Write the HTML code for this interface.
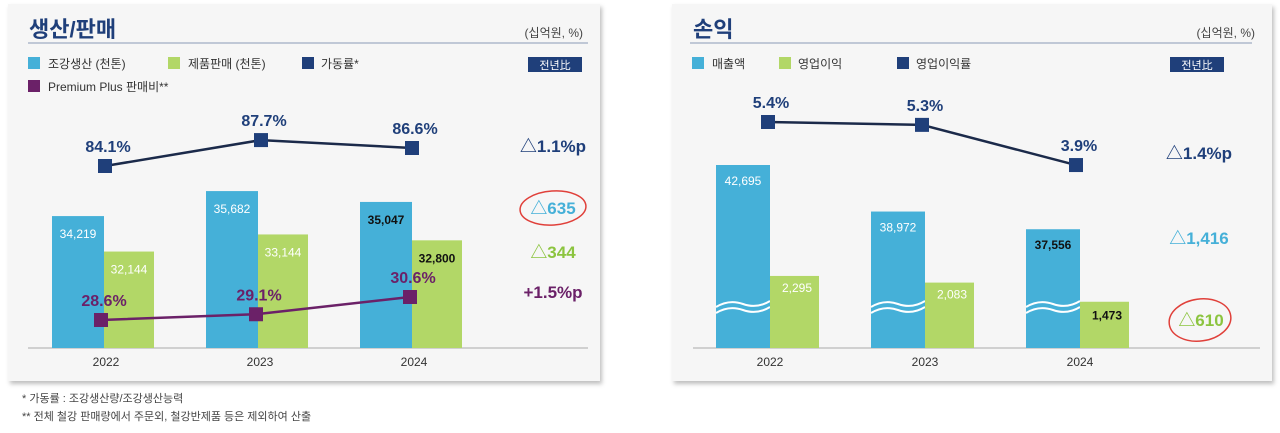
<!DOCTYPE html>
<html><head><meta charset="utf-8">
<style>
html,body{margin:0;padding:0;background:#fff;}
body{width:1280px;height:428px;overflow:hidden;font-family:"Liberation Sans","Noto Sans CJK KR",sans-serif;}
svg text{font-family:"Liberation Sans","Noto Sans CJK KR",sans-serif;}
</style></head>
<body>
<svg id="chart" width="1280" height="428" viewBox="0 0 1280 428" xmlns="http://www.w3.org/2000/svg">
<defs>
<filter id="sh" x="-5%" y="-5%" width="110%" height="115%"><feDropShadow dx="2" dy="3" stdDeviation="2" flood-color="#000" flood-opacity="0.25"/></filter>
</defs>
<rect x="8" y="4" width="592" height="377" fill="#f6f6f6" filter="url(#sh)"/>
<rect x="672" y="4" width="600" height="377" fill="#f6f6f6" filter="url(#sh)"/>
<text x="29" y="37" font-size="22" font-weight="bold" fill="#1f3f7a">생산/판매</text>
<text x="583" y="37" font-size="12" fill="#444" text-anchor="end">(십억원, %)</text>
<line x1="28" y1="43" x2="588" y2="43" stroke="#8a9ab5" stroke-width="1"/>
<g font-size="12" fill="#333">
<rect x="28" y="57" width="12" height="12" fill="#45b0d8"/><text x="48" y="68">조강생산 (천톤)</text>
<rect x="168" y="57" width="12" height="12" fill="#b2d767"/><text x="188" y="68">제품판매 (천톤)</text>
<rect x="302" y="57" width="12" height="12" fill="#1f3f7a"/><text x="321" y="68">가동률*</text>
<rect x="28" y="80" width="12" height="12" fill="#6b2168"/><text x="48" y="91">Premium Plus 판매비**</text>
</g>
<rect x="528" y="57" width="54" height="15" fill="#1f3f7a"/>
<text x="555" y="69" font-size="11" fill="#fff" text-anchor="middle">전년比</text>
<line x1="28" y1="348" x2="588" y2="348" stroke="#aaa" stroke-width="1"/>
<g id="left"></g>
<g font-size="17" font-weight="bold" text-anchor="middle">
<text x="553" y="152" fill="#1f3f7a">△1.1%p</text>
<ellipse cx="553" cy="208" rx="33" ry="17" fill="none" stroke="#e0403a" stroke-width="1.5" transform="rotate(-4 553 208)"/>
<text x="553" y="214" fill="#45b0d8">△635</text>
<text x="553" y="258" fill="#8cc43f">△344</text>
<text x="553" y="298" fill="#6b2168">+1.5%p</text>
</g>
<text x="22" y="402" font-size="11" fill="#444">* 가동률 : 조강생산량/조강생산능력</text>
<text x="22" y="420" font-size="11" fill="#444">** 전체 철강 판매량에서 주문외, 철강반제품 등은 제외하여 산출</text>

<text x="693" y="37" font-size="22" font-weight="bold" fill="#1f3f7a">손익</text>
<text x="1255" y="37" font-size="12" fill="#444" text-anchor="end">(십억원, %)</text>
<line x1="690" y1="43" x2="1252" y2="43" stroke="#8a9ab5" stroke-width="1"/>
<g font-size="12" fill="#333">
<rect x="692" y="57" width="12" height="12" fill="#45b0d8"/><text x="712" y="68">매출액</text>
<rect x="779" y="57" width="12" height="12" fill="#b2d767"/><text x="798" y="68">영업이익</text>
<rect x="897" y="57" width="12" height="12" fill="#1f3f7a"/><text x="916" y="68">영업이익률</text>
</g>
<rect x="1170" y="57" width="54" height="15" fill="#1f3f7a"/>
<text x="1197" y="69" font-size="11" fill="#fff" text-anchor="middle">전년比</text>
<line x1="693" y1="348" x2="1260" y2="348" stroke="#aaa" stroke-width="1"/>
<g id="right"></g>
<g font-size="17" font-weight="bold" text-anchor="middle">
<text x="1199" y="159" fill="#1f3f7a">△1.4%p</text>
<text x="1199" y="244" fill="#45b0d8">△1,416</text>
<ellipse cx="1200" cy="320" rx="31" ry="21" fill="none" stroke="#e0403a" stroke-width="1.5" transform="rotate(-8 1200 320)"/>
<text x="1201" y="326" fill="#8cc43f">△610</text>
</g>
</svg>
<script>
const years = ["2022","2023","2024"];
const crudeSteel = [34219, 35682, 35047];
const productSales = [32144, 33144, 32800];
const utilization = [84.1, 87.7, 86.6];
const premiumRatio = [28.6, 29.1, 30.6];
const revenue = [42695, 38972, 37556];
const opProfit = [2295, 2083, 1473];
const opMargin = [5.4, 5.3, 3.9];

const NS = "http://www.w3.org/2000/svg";
function mk(parent, tag, attrs, text){
  const e = document.createElementNS(NS, tag);
  for (const k in attrs) e.setAttribute(k, attrs[k]);
  if (text !== undefined) e.textContent = text;
  parent.appendChild(e);
  return e;
}
const fmt = v => v.toLocaleString("en-US");
const BASE = 348;

const L = document.getElementById("left");
const lx = i => 104 + i * 154;
const lBarY = v => BASE - (v - 26500) * 0.01709;
const lUtilY = v => 166 - (v - 84.1) * 7.2;
const lPremY = v => 320 - (v - 28.6) * 11.5;

years.forEach((y, i) => {
  const c = lx(i);
  const b = mk(L, "rect", {x: c - 52, y: lBarY(crudeSteel[i]), width: 52, height: BASE - lBarY(crudeSteel[i]), fill: "#45b0d8"});
  
  
  const g = mk(L, "rect", {x: c, y: lBarY(productSales[i]), width: 50, height: BASE - lBarY(productSales[i]), fill: "#b2d767"});
  
  
  const last = i === years.length - 1;
  const t1 = mk(L, "text", {x: c - 26, y: lBarY(crudeSteel[i]) + 22, "font-size": 12, "text-anchor": "middle", fill: last ? "#111" : "#fff", "font-weight": last ? "bold" : "normal"}, fmt(crudeSteel[i]));
  
  
  const t2 = mk(L, "text", {x: c + 25, y: lBarY(productSales[i]) + 22, "font-size": 12, "text-anchor": "middle", fill: last ? "#111" : "#fff", "font-weight": last ? "bold" : "normal"}, fmt(productSales[i]));
  
  
  const yl = mk(L, "text", {x: c + 2, y: 366, "font-size": 12, "text-anchor": "middle", fill: "#333"}, y);
  
  
});
function drawLine(parent, xs, ys, vals, lineColor, markColor, labelColor, name, dy){
  const pts = vals.map((v, i) => xs(i) + "," + ys(v)).join(" ");
  const pl = mk(parent, "polyline", {points: pts, fill: "none", stroke: lineColor, "stroke-width": 2.5});
  
  
  vals.forEach((v, i) => {
    const m = mk(parent, "rect", {x: xs(i) - 7, y: ys(v) - 7, width: 14, height: 14, fill: markColor});
    
    
    const t = mk(parent, "text", {x: xs(i) + 3, y: ys(v) + dy, "font-size": 16, "font-weight": "bold", "text-anchor": "middle", fill: labelColor}, v.toFixed(1) + "%");
    
    
  });
}
drawLine(L, i => [105, 261, 412][i], lUtilY, utilization, "#1b2a4a", "#1f3f7a", "#1f3f7a", "utilization", -14);
drawLine(L, i => [101, 256, 410][i], lPremY, premiumRatio, "#6b2168", "#6b2168", "#6b2168", "premium", -14);

const R = document.getElementById("right");
const rx = i => 770 + i * 155;
const rRevY = v => BASE - (v - 28055) * 0.0125;
const rOpY = v => BASE - v * 0.0314;
const rMarY = v => 122 + (5.4 - v) * 28.7;
years.forEach((y, i) => {
  const c = rx(i);
  const b = mk(R, "rect", {x: c - 54, y: rRevY(revenue[i]), width: 54, height: BASE - rRevY(revenue[i]), fill: "#45b0d8"});
  
  
  const w = mk(R, "path", {d: `M${c-54},307 q13,-8 27,-3 q14,5 27,-3 M${c-54},313 q13,-8 27,-3 q14,5 27,-3`, fill: "none", stroke: "#fff", "stroke-width": 2});
  
  
  const g = mk(R, "rect", {x: c, y: rOpY(opProfit[i]), width: 49, height: BASE - rOpY(opProfit[i]), fill: "#b2d767"});
  
  
  const last = i === years.length - 1;
  const t1 = mk(R, "text", {x: c - 27, y: rRevY(revenue[i]) + 20, "font-size": 12, "text-anchor": "middle", fill: last ? "#111" : "#fff", "font-weight": last ? "bold" : "normal"}, fmt(revenue[i]));
  
  
  const t2 = mk(R, "text", {x: c + 27, y: rOpY(opProfit[i]) + (last ? 18 : 16), "font-size": 12, "text-anchor": "middle", fill: last ? "#111" : "#fff", "font-weight": last ? "bold" : "normal"}, fmt(opProfit[i]));
  
  
  const yl = mk(R, "text", {x: c, y: 366, "font-size": 12, "text-anchor": "middle", fill: "#333"}, y);
  
  
});
drawLine(R, i => [768, 922, 1076][i], rMarY, opMargin, "#1b2a4a", "#1f3f7a", "#1f3f7a", "op-margin", -14);
</script>
</body></html>
